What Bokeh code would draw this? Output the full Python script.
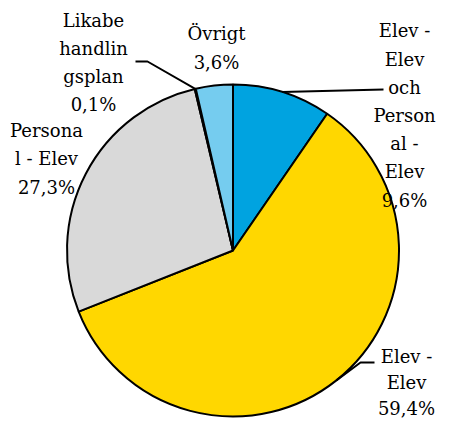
import math
from bokeh.plotting import figure
from bokeh.models import Range1d, ColumnDataSource
from bokeh.core.properties import value
from bokeh.embed import file_html
from bokeh.resources import INLINE

# ---- data ----
categories = ["Elev - Elev och Personal - Elev", "Elev - Elev", "Personal - Elev",
              "Likabehandlingsplan", "Övrigt"]
wrapped_names = ["Elev -\nElev\noch\nPerson\nal -\nElev", "Elev -\nElev", "Persona\nl - Elev",
                 "Likabe\nhandlin\ngsplan", "Övrigt"]
shares = [9.6, 59.4, 27.3, 0.1, 3.6]
colors = ["#00A3E0", "#FFD700", "#D9D9D9", "#1F4E79", "#75CCEF"]

# ---- layout (screen-pixel style coordinates) ----
W, H = 438, 418
PAGE_H = 434
cx, cy_s, R = 232.5, 250.0, 166.0
label_pos = [(404, 115), (406, 382), (46, 158), (93, 62), (216, 47.5)]
label_lh = [28.2, 26.0, 28.5, 28.0, 29.0]
leader_elbow = [[(383, 89)], [(360, 362), (374, 362)], [], [(147, 61), (135, 61)], []]
FONT = "DejaVu Serif"

def Y(sy):
    return PAGE_H - sy

p = figure(width=W, height=H, output_backend="svg", toolbar_location=None,
           x_range=Range1d(0, W), y_range=Range1d(PAGE_H - H, PAGE_H),
           min_border=0)
p.xaxis.visible = False
p.yaxis.visible = False
p.grid.visible = False
p.outline_line_color = None
p.background_fill_color = "white"

total = sum(shares)
starts, ends, mids = [], [], []
cum = 0.0
for v in shares:
    a0 = math.pi / 2 - 2 * math.pi * cum / total
    cum += v
    a1 = math.pi / 2 - 2 * math.pi * cum / total
    starts.append(a0)
    ends.append(a1)
    mids.append((a0 + a1) / 2)

src = ColumnDataSource(dict(start=starts, end=ends, color=colors, cat=categories))
p.wedge(x=cx, y=Y(cy_s), radius=R, start_angle="start", end_angle="end",
        direction="clock", fill_color="color", line_color="black", line_width=2,
        source=src)

# leader lines
lxs, lys = [], []
for i, elb in enumerate(leader_elbow):
    if not elb:
        continue
    ex = cx + R * math.cos(mids[i])
    ey = Y(cy_s) + R * math.sin(mids[i])
    xs = [ex] + [e[0] for e in elb]
    ys = [ey] + [Y(e[1]) for e in elb]
    lxs.append(xs)
    lys.append(ys)
p.multi_line(xs=lxs, ys=lys, line_color="black", line_width=2)

# labels
tx, ty, tt = [], [], []
for i, name in enumerate(wrapped_names):
    pct = f"{shares[i]:.1f}".replace(".", ",") + "%"
    lines = name.split("\n") + [pct]
    n = len(lines)
    x0, y0 = label_pos[i]
    lh = label_lh[i]
    for k, ln in enumerate(lines):
        sy = y0 + (k - (n - 1) / 2) * lh
        tx.append(x0)
        ty.append(Y(sy))
        tt.append(ln)
p.text(x=tx, y=ty, text=tt, text_font=value(FONT), text_font_size="18px",
       text_align="center", text_baseline="middle", text_color="black")

open("out.html", "w").write(file_html(p, INLINE))
